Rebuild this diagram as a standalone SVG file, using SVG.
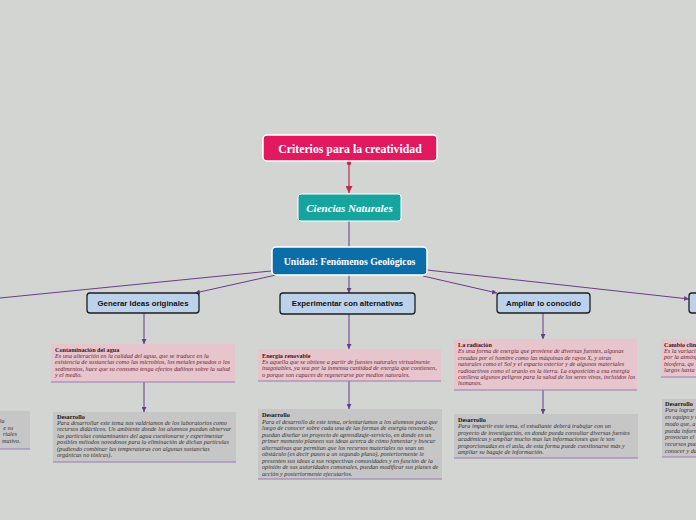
<svg xmlns="http://www.w3.org/2000/svg" width="696" height="520" viewBox="0 0 696 520">
<defs>
<marker id="ap" viewBox="0 0 6 6" refX="6" refY="3" markerWidth="5" markerHeight="5" orient="auto" markerUnits="userSpaceOnUse"><path d="M0,0 L6,3 L0,6 z" fill="#6b3b8c"/></marker>
<marker id="ar" viewBox="0 0 6 6" refX="6" refY="3" markerWidth="7" markerHeight="7" orient="auto" markerUnits="userSpaceOnUse"><path d="M0,0 L6,3 L0,6 z" fill="#c22a4c"/></marker>
<style>
.bg{fill:#d3d5d2}
.c{stroke:#6b3b8c;stroke-width:1;fill:none}
.sub{fill:#bcd1ea;stroke:#1e1e1e;stroke-width:1.3}
.subt{font-family:"Liberation Sans",Arial,sans-serif;font-weight:bold;font-size:7.8px;fill:#111;text-anchor:middle}
.pink{fill:#e6c6cc}
.gray{fill:#c6c6c6}
.bl{stroke:#9a78b4;stroke-width:1}
.pt{font-family:"Liberation Serif","Times New Roman",serif;font-weight:bold;font-size:6.2px;fill:#4a0f22}
.pb{font-family:"Liberation Serif","Times New Roman",serif;font-style:italic;font-size:6.2px;fill:#6e1d36}
.gt{font-family:"Liberation Serif","Times New Roman",serif;font-weight:bold;font-size:6.2px;fill:#111}
.gb{font-family:"Liberation Serif","Times New Roman",serif;font-style:italic;font-size:6.2px;fill:#333}
</style>
</defs>
<rect class="bg" x="0" y="0" width="696" height="520"/>

<g id="connectors">
<line x1="349" y1="163" x2="349" y2="193" stroke="#c22a4c" stroke-width="1.2" marker-end="url(#ar)"/>
<circle cx="349" cy="163" r="2.2" fill="#c22a4c"/>
<line class="c" x1="349" y1="221" x2="349" y2="247"/>
<line class="c" x1="271" y1="271" x2="0" y2="298"/>
<line class="c" x1="276" y1="275" x2="195" y2="293" marker-end="url(#ap)"/>
<line class="c" x1="349" y1="275" x2="349" y2="293" marker-end="url(#ap)"/>
<line class="c" x1="423" y1="276" x2="497" y2="293" marker-end="url(#ap)"/>
<line class="c" x1="427" y1="270" x2="689" y2="299" marker-end="url(#ap)"/>
<line class="c" x1="144" y1="313" x2="144" y2="344" marker-end="url(#ap)"/>
<line class="c" x1="144" y1="382" x2="144" y2="412" marker-end="url(#ap)"/>
<line class="c" x1="349" y1="314" x2="349" y2="349" marker-end="url(#ap)"/>
<line class="c" x1="349" y1="381" x2="349" y2="409" marker-end="url(#ap)"/>
<line class="c" x1="543" y1="313" x2="543" y2="339" marker-end="url(#ap)"/>
<line class="c" x1="543" y1="390" x2="543" y2="414" marker-end="url(#ap)"/>
</g>

<g id="root">
<rect x="263" y="135" width="174" height="26" rx="4" fill="#e2195f" stroke="#fff" stroke-width="1.5"/>
<text x="350" y="152.5" text-anchor="middle" font-family="'Liberation Serif','Times New Roman',serif" font-weight="bold" font-size="11.8" fill="#fff">Criterios para la creatividad</text>
</g>

<g id="ciencias">
<rect x="298" y="194" width="103" height="27" rx="3" fill="#17a39e" stroke="#fff" stroke-width="1"/>
<text x="349.5" y="211.5" text-anchor="middle" font-family="'Liberation Serif',serif" font-style="italic" font-weight="bold" font-size="11" fill="#fff">Ciencias  Naturales</text>
</g>

<g id="unidad">
<rect x="272" y="247" width="155" height="28" rx="4" fill="#0b6ea9" stroke="#fff" stroke-width="1.5"/>
<text x="349.5" y="264.5" text-anchor="middle" font-family="'Liberation Serif','Times New Roman',serif" font-weight="bold" font-size="9.8" fill="#fff">Unidad: Fenómenos Geológicos</text>
</g>

<g id="generar">
<rect class="sub" x="87" y="293" width="112" height="20" rx="3"/>
<text class="subt" x="143" y="305.8">Generar Ideas originales</text>
</g>

<g id="experimentar">
<rect class="sub" x="280" y="293" width="135" height="21" rx="3"/>
<text class="subt" x="347.5" y="306.3">Experimentar con alternativas</text>
</g>

<g id="ampliar">
<rect class="sub" x="497" y="293" width="93" height="20" rx="3"/>
<text class="subt" x="543.5" y="305.8">Ampliar lo conocido</text>
</g>

<g id="right-node">
<rect class="sub" x="689" y="293" width="20" height="20" rx="3"/>
</g>

<g id="contaminacion">
<rect class="pink" x="51" y="344" width="184" height="38"/>
<line class="bl" x1="51" y1="382" x2="235" y2="382"/>
<text class="pt" x="55" y="351.5">Contaminación del agua</text>
<text class="pb" x="55" y="357.8">Es una alteración en la calidad del agua, que se traduce en la</text>
<text class="pb" x="55" y="364.2">existencia de sustancias como las microbios, los metales pesados o los</text>
<text class="pb" x="55" y="370.6">sedimentos, hace que su consumo tenga efectos dañinos sobre la salud</text>
<text class="pb" x="55" y="377">y el medio.</text>
</g>

<g id="desarrollo1">
<rect class="gray" x="53" y="412" width="183" height="50"/>
<line class="bl" x1="53" y1="462" x2="236" y2="462"/>
<text class="gt" x="57" y="418.8">Desarrollo</text>
<text class="gb" x="57" y="425">Para desarrollar este tema nos valdríamos de los laboratorios como</text>
<text class="gb" x="57" y="431.4">recursos didácticos. Un ambiente donde los alumnos puedan observar</text>
<text class="gb" x="57" y="437.8">las partículas contaminantes del agua cuestionarse y experimentar</text>
<text class="gb" x="57" y="444.2">posibles métodos novedosos para la eliminación de dichas partículas</text>
<text class="gb" x="57" y="450.6">(pudiendo combinar las temperaturas con algunas sustancias</text>
<text class="gb" x="57" y="457">orgánicas no tóxicas).</text>
</g>

<g id="energia">
<rect class="pink" x="258" y="349" width="183" height="32"/>
<line class="bl" x1="258" y1="381" x2="441" y2="381"/>
<text class="pt" x="262" y="357.5">Energía renovable</text>
<text class="pb" x="262" y="363.8">Es aquella que se obtiene a partir de fuentes naturales virtualmente</text>
<text class="pb" x="262" y="370.2">inagotables, ya sea por la inmensa cantidad de energía que contienen,</text>
<text class="pb" x="262" y="376.6">o porque son capaces de regenerarse por medios naturales.</text>
</g>

<g id="desarrollo2">
<rect class="gray" x="258" y="409" width="184" height="70"/>
<line class="bl" x1="258" y1="479" x2="442" y2="479"/>
<text class="gt" x="262" y="417">Desarrollo</text>
<text class="gb" x="262" y="423.5">Para el desarrollo de este tema, orientaríamos a los alumnos para que</text>
<text class="gb" x="262" y="430">luego de conocer sobre cada una de las formas de energía renovable,</text>
<text class="gb" x="262" y="436.5">puedan diseñar un proyecto de aprendizaje-servicio, en donde en un</text>
<text class="gb" x="262" y="443">primer momento planeen sus ideas acerca de cómo fomentar y buscar</text>
<text class="gb" x="262" y="449.5">alternativas que permitan que los recursos materiales no sean un</text>
<text class="gb" x="262" y="456">obstáculo (es decir pasen a un segundo plano), posteriormente le</text>
<text class="gb" x="262" y="462.5">presenten sus ideas a sus respectivas comunidades y en función de la</text>
<text class="gb" x="262" y="469">opinión de sus autoridades comunales, puedan modificar sus planes de</text>
<text class="gb" x="262" y="475.5">acción y posteriormente ejecutarlos.</text>
</g>

<g id="radiacion">
<rect class="pink" x="454" y="339" width="183" height="51"/>
<line class="bl" x1="454" y1="390" x2="637" y2="390"/>
<text class="pt" x="458" y="347">La radiación</text>
<text class="pb" x="458" y="353.4">Es una forma de energía que proviene de diversas fuentes, algunas</text>
<text class="pb" x="458" y="359.8">creadas por el hombre como las máquinas de rayos X, y otras</text>
<text class="pb" x="458" y="366.2">naturales como el Sol y el espacio exterior y de algunos materiales</text>
<text class="pb" x="458" y="372.6">radioactivos como el uranio en la tierra. La exposición a esa energía</text>
<text class="pb" x="458" y="379">conlleva algunos peligros para la salud de los seres vivos, incluidos los</text>
<text class="pb" x="458" y="385.4">humanos.</text>
</g>

<g id="desarrollo3">
<rect class="gray" x="454" y="414" width="184" height="44"/>
<line class="bl" x1="454" y1="458" x2="638" y2="458"/>
<text class="gt" x="458" y="422">Desarrollo</text>
<text class="gb" x="458" y="428.4">Para impartir este tema, el estudiante deberá trabajar con un</text>
<text class="gb" x="458" y="434.8">proyecto de investigación, en donde pueda consultar diversas fuentes</text>
<text class="gb" x="458" y="441.2">académicas y ampliar mucho mas las informaciones que le son</text>
<text class="gb" x="458" y="447.6">proporcionadas en el aula, de esta forma puede cuestionarse más y</text>
<text class="gb" x="458" y="454">ampliar su bagaje de información.</text>
</g>

<g id="cambio">
<rect class="pink" x="661" y="339" width="40" height="38"/>
<line class="bl" x1="661" y1="377" x2="701" y2="377"/>
<text class="pt" x="664" y="347">Cambio clim</text>
<text class="pb" x="664" y="353">Es la variaci</text>
<text class="pb" x="664" y="359.3">por la atmósf</text>
<text class="pb" x="664" y="365.6">biosfera, qu</text>
<text class="pb" x="664" y="372">largos hasta</text>
</g>

<g id="desarrollo4">
<rect class="gray" x="662" y="399" width="40" height="58"/>
<line class="bl" x1="662" y1="457" x2="702" y2="457"/>
<text class="gt" x="665" y="406">Desarrollo</text>
<text class="gb" x="665" y="412.2">Para lograr e</text>
<text class="gb" x="665" y="419">en equipo y u</text>
<text class="gb" x="665" y="425.8">modo que, a</text>
<text class="gb" x="665" y="432.6">pueda inform</text>
<text class="gb" x="665" y="439.4">provocan el c</text>
<text class="gb" x="665" y="446.2">recursos pue</text>
<text class="gb" x="665" y="453">conocer y da</text>
</g>

<g id="desarrollo0">
<rect class="gray" x="-10" y="411" width="40" height="38"/>
<line class="bl" x1="-10" y1="449" x2="30" y2="449"/>
<text class="gb" x="4.5" y="423" text-anchor="end">la</text>
<text class="gb" x="13" y="429.5" text-anchor="end">e su</text>
<text class="gb" x="17" y="436" text-anchor="end">riales</text>
<text class="gb" x="20.5" y="442.5" text-anchor="end">mativo.</text>
</g>
</svg>
